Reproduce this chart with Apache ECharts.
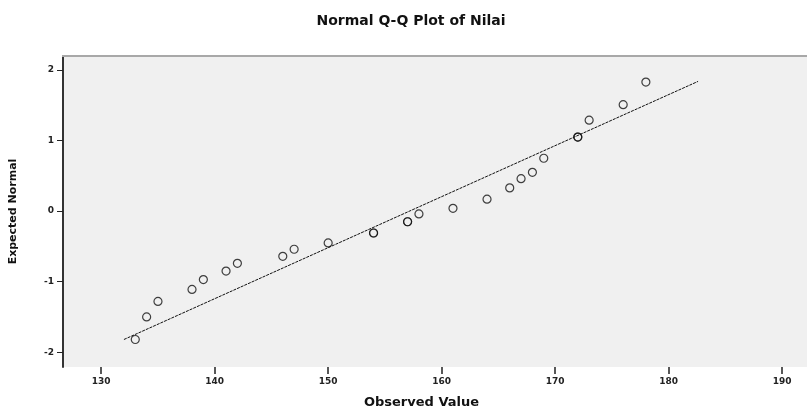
<!DOCTYPE html>
<html>
<head>
<meta charset="utf-8">
<script src="https://cdn.jsdelivr.net/npm/echarts@6/dist/echarts.min.js"></script>
<style>html,body{margin:0;padding:0;background:#fff}#c{width:807px;height:414px}</style>
</head>
<body>
<div id="c"></div>
<script>
const titleText = "Normal Q-Q Plot of Nilai";
const xTitle = "Observed Value";
const yTitle = "Expected Normal";
const xTicks = [130, 140, 150, 160, 170, 180, 190];
const yTicks = [-2, -1, 0, 1, 2];
const observed = [133, 134, 135, 138, 139, 141, 142, 146, 147, 150, 154, 154, 157, 157, 158, 161, 164, 166, 167, 168, 169, 172, 172, 173, 176, 178];
const expected = [-1.82, -1.50, -1.28, -1.11, -0.97, -0.85, -0.74, -0.64, -0.54, -0.45, -0.31, -0.31, -0.15, -0.15, -0.04, 0.04, 0.17, 0.33, 0.46, 0.55, 0.75, 1.05, 1.05, 1.29, 1.51, 1.83];
const refLineX = [132.0, 182.6];
const refLineY = [-1.82, 1.84];

const chart = echarts.init(document.getElementById('c'), null, {renderer: 'canvas'});
const font = 'DejaVu Sans, Arial, sans-serif';
chart.setOption({
  animation: false,
  backgroundColor: '#ffffff',
  title: {
    text: titleText,
    left: 406, top: 9, textAlign: 'center',
    textStyle: {fontFamily: font, fontSize: 14, fontWeight: 'bold', color: '#111'}
  },
  grid: {left: 62, top: 56, right: 0, bottom: 43, show: true, backgroundColor: '#f0f0f0', borderWidth: 0},
  xAxis: {
    type: 'value', min: 126.63, max: 192.2,
    name: xTitle, nameLocation: 'middle', nameGap: 29,
    nameTextStyle: {fontFamily: font, fontSize: 13, fontWeight: 'bold', color: '#111', padding: [0, 27, 0, 0]},
    axisLine: {show: true, onZero: false, lineStyle: {color: 'rgba(0,0,0,0)', width: 0}},
    splitLine: {show: false},
    axisTick: {show: true, inside: false, customValues: xTicks, length: 7, lineStyle: {color: '#222', width: 1.5}},
    axisLabel: {customValues: xTicks, fontFamily: font, fontSize: 9, fontWeight: 'bold', color: '#222', margin: 10}
  },
  yAxis: {
    type: 'value', min: -2.21, max: 2.2,
    name: yTitle, nameLocation: 'middle', nameGap: 44,
    nameTextStyle: {fontFamily: font, fontSize: 11, fontWeight: 'bold', color: '#111'},
    axisLine: {show: true, onZero: false, lineStyle: {color: '#333', width: 2}},
    splitLine: {show: false},
    axisTick: {show: true, customValues: yTicks, length: 6, lineStyle: {color: '#222', width: 1}},
    axisLabel: {customValues: yTicks, fontFamily: font, fontSize: 9, fontWeight: 'bold', color: '#222', margin: 9}
  },
  graphic: [{
    type: 'line', shape: {x1: 62, y1: 56, x2: 807, y2: 56},
    style: {stroke: '#a8a8a8', lineWidth: 2}, z: 10
  }],
  series: [
    {
      type: 'line',
      data: refLineX.map((x, i) => [x, refLineY[i]]),
      symbol: 'none',
      lineStyle: {color: '#111', width: 1, type: [3, 1]},
      silent: true, z: 2
    },
    {
      type: 'scatter',
      data: observed.map((x, i) => [x, expected[i]]),
      symbol: 'circle', symbolSize: 8,
      itemStyle: {color: 'rgba(0,0,0,0)', borderColor: '#111', borderWidth: 1.2},
      z: 3
    }
  ]
});
</script>
</body>
</html>
